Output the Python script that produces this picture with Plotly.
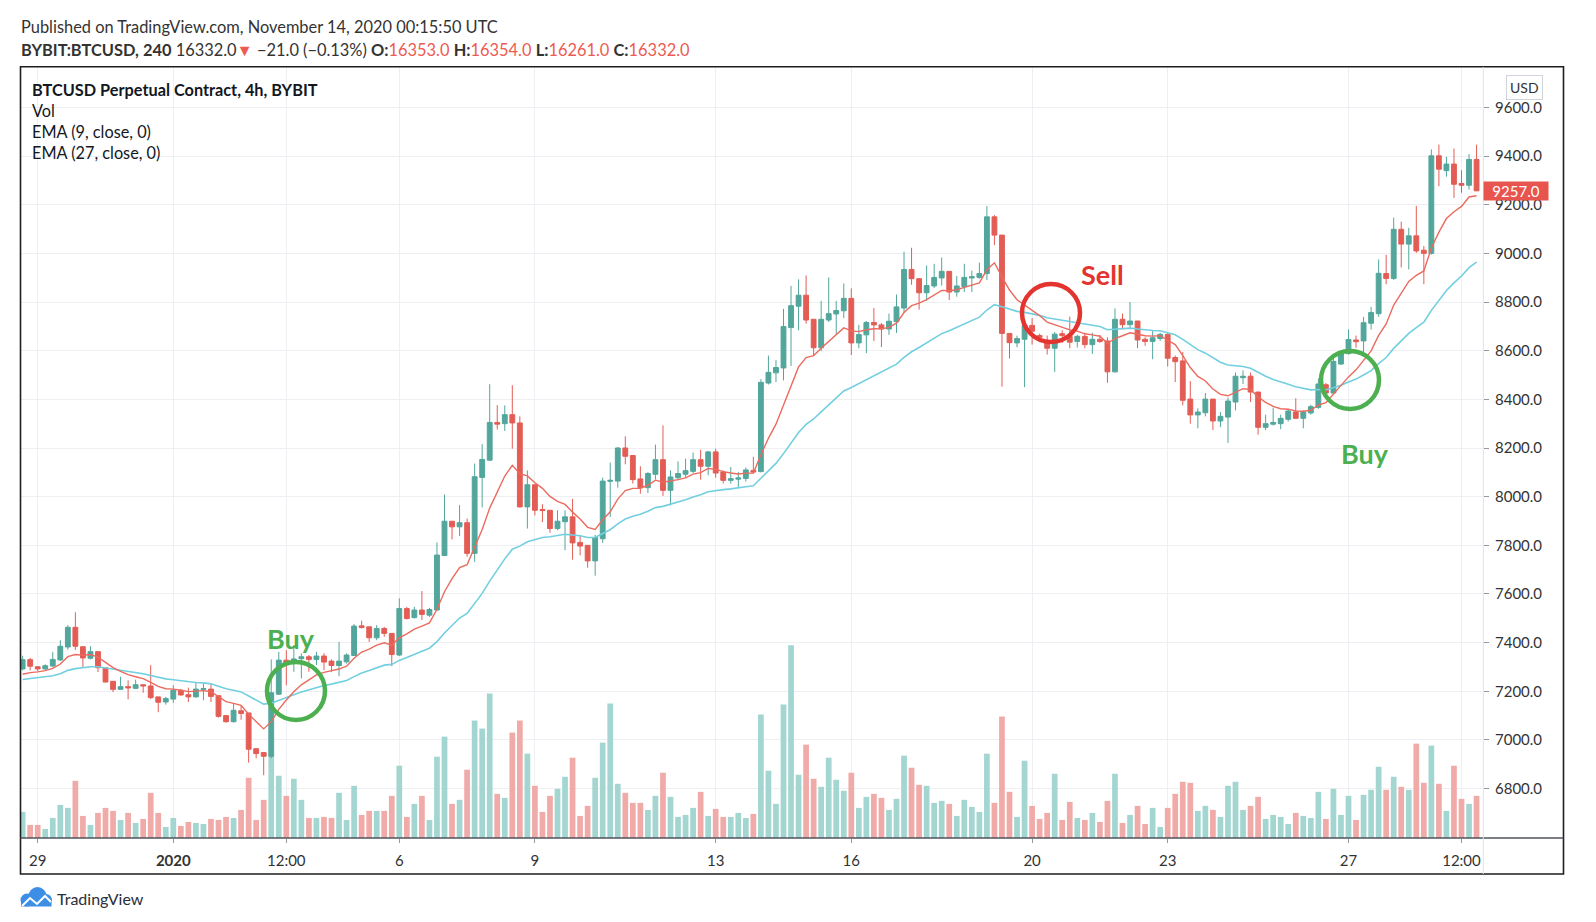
import pandas as pd
import plotly.graph_objects as go

# BYBIT:BTCUSD 4h candles, 28 Dec 2019 16:00 -> 29 Jan 2020 20:00
times = pd.date_range('2019-12-28 16:00', periods=194, freq='4h')

opens = [7292, 7330, 7301, 7292, 7304, 7329, 7382, 7463, 7383, 7336,
         7363, 7297, 7241, 7208, 7219, 7212, 7227, 7222, 7177, 7156,
         7168, 7204, 7186, 7177, 7207, 7209, 7182, 7100, 7075, 7120,
         7111, 6964, 6948, 6933, 7188, 7328, 7321, 7334, 7342, 7331,
         7345, 7324, 7306, 7321, 7347, 7469, 7465, 7420, 7458, 7438,
         7349, 7540, 7503, 7534, 7513, 7534, 7758, 7899, 7876, 7893,
         7767, 8079, 8150, 8305, 8300, 8337, 8303, 7958, 8049, 7947,
         7944, 7869, 7897, 7917, 7812, 7800, 7736, 7827, 8063, 8064,
         8200, 8169, 8073, 8037, 8092, 8152, 8026, 8078, 8092, 8104,
         8152, 8125, 8184, 8101, 8067, 8072, 8075, 8108, 8103, 8467,
         8509, 8529, 8695, 8783, 8828, 8729, 8612, 8726, 8751, 8764,
         8815, 8632, 8665, 8716, 8706, 8689, 8719, 8775, 8934, 8896,
         8838, 8866, 8899, 8926, 8841, 8863, 8899, 8901, 8917, 9150,
         9075, 8671, 8632, 8647, 8704, 8662, 8632, 8610, 8670, 8659,
         8638, 8659, 8625, 8647, 8640, 8513, 8729, 8707, 8722, 8647,
         8638, 8650, 8667, 8572, 8558, 8401, 8336, 8345, 8401, 8311,
         8327, 8389, 8489, 8495, 8430, 8285, 8298, 8300, 8318, 8348,
         8322, 8344, 8367, 8460, 8426, 8545, 8588, 8644, 8640, 8713,
         8752, 8917, 8897, 9099, 9038, 9072, 9013, 9000, 9401, 9340,
         9367, 9287, 9280, 9386]
highs = [7346, 7338, 7301, 7311, 7362, 7410, 7472, 7525, 7385, 7385,
         7363, 7297, 7241, 7260, 7245, 7248, 7227, 7307, 7177, 7177,
         7225, 7209, 7215, 7236, 7231, 7231, 7182, 7100, 7152, 7142,
         7111, 6964, 6948, 7331, 7362, 7369, 7390, 7356, 7349, 7362,
         7356, 7331, 7403, 7356, 7476, 7490, 7465, 7472, 7465, 7438,
         7582, 7547, 7547, 7612, 7543, 7812, 8009, 7899, 7965, 7910,
         8136, 8216, 8462, 8376, 8375, 8458, 8330, 8108, 8049, 7969,
         7944, 7944, 7944, 7991, 7841, 7800, 7843, 8078, 8140, 8204,
         8248, 8169, 8125, 8101, 8214, 8293, 8108, 8145, 8156, 8181,
         8193, 8188, 8197, 8108, 8122, 8101, 8120, 8164, 8483, 8580,
         8561, 8772, 8866, 8893, 8909, 8729, 8805, 8901, 8805, 8876,
         8856, 8706, 8722, 8775, 8714, 8752, 8831, 9007, 9023, 8896,
         8950, 8957, 8983, 8926, 8907, 8957, 8929, 8962, 9194, 9157,
         9075, 8671, 8662, 8729, 8734, 8670, 8662, 8677, 8684, 8740,
         8665, 8674, 8674, 8665, 8655, 8774, 8752, 8800, 8722, 8655,
         8684, 8674, 8674, 8580, 8595, 8475, 8363, 8426, 8401, 8348,
         8407, 8510, 8519, 8510, 8430, 8337, 8366, 8337, 8361, 8404,
         8355, 8378, 8486, 8467, 8584, 8597, 8687, 8662, 8739, 8780,
         8975, 8994, 9147, 9130, 9105, 9195, 9030, 9427, 9447, 9397,
         9431, 9342, 9408, 9447]
lows = [7286, 7286, 7282, 7286, 7300, 7325, 7371, 7370, 7300, 7331,
        7279, 7237, 7197, 7208, 7167, 7209, 7194, 7168, 7114, 7145,
        7152, 7182, 7156, 7174, 7163, 7156, 7092, 7071, 7072, 7083,
        6907, 6925, 6855, 6925, 7185, 7225, 7280, 7253, 7280, 7308,
        7287, 7280, 7262, 7314, 7345, 7458, 7403, 7410, 7424, 7303,
        7345, 7495, 7499, 7493, 7506, 7531, 7756, 7824, 7838, 7753,
        7732, 7956, 8148, 8276, 8270, 8197, 7955, 7869, 7923, 7896,
        7851, 7862, 7780, 7741, 7759, 7708, 7675, 7810, 7917, 8037,
        8133, 8054, 8012, 8015, 8070, 8003, 7964, 8067, 8081, 8097,
        8070, 8088, 8078, 8054, 8054, 8037, 8062, 8095, 8100, 8461,
        8471, 8478, 8537, 8684, 8711, 8577, 8598, 8718, 8668, 8734,
        8582, 8610, 8590, 8640, 8615, 8665, 8673, 8755, 8871, 8769,
        8805, 8858, 8868, 8808, 8822, 8841, 8841, 8896, 8890, 9034,
        8452, 8568, 8614, 8450, 8625, 8635, 8584, 8513, 8632, 8610,
        8613, 8610, 8587, 8632, 8468, 8510, 8687, 8689, 8610, 8620,
        8565, 8640, 8535, 8471, 8375, 8300, 8281, 8330, 8274, 8286,
        8221, 8355, 8463, 8389, 8255, 8273, 8292, 8277, 8309, 8320,
        8281, 8337, 8361, 8426, 8420, 8541, 8584, 8612, 8594, 8687,
        8739, 8873, 8891, 8942, 8934, 9002, 8873, 8995, 9276, 9315,
        9228, 9249, 9262, 9267]
closes = [7330, 7303, 7292, 7305, 7331, 7385, 7463, 7385, 7337, 7363,
          7297, 7238, 7208, 7219, 7214, 7227, 7222, 7174, 7155, 7170,
          7204, 7185, 7177, 7209, 7211, 7179, 7097, 7075, 7122, 7109,
          6962, 6944, 6933, 7194, 7328, 7317, 7333, 7342, 7331, 7345,
          7320, 7306, 7324, 7349, 7468, 7462, 7420, 7458, 7438, 7351,
          7540, 7499, 7534, 7516, 7536, 7760, 7899, 7876, 7893, 7767,
          8082, 8153, 8305, 8298, 8337, 8303, 7958, 8049, 7944, 7943,
          7869, 7899, 7917, 7810, 7797, 7736, 7832, 8064, 8067, 8200,
          8166, 8070, 8037, 8095, 8152, 8026, 8081, 8095, 8107, 8152,
          8125, 8184, 8097, 8067, 8074, 8077, 8110, 8101, 8470, 8511,
          8531, 8699, 8785, 8828, 8726, 8612, 8729, 8752, 8765, 8815,
          8632, 8666, 8716, 8706, 8689, 8721, 8780, 8934, 8896, 8838,
          8868, 8901, 8926, 8841, 8866, 8901, 8904, 8917, 9150, 9075,
          8671, 8633, 8650, 8704, 8680, 8655, 8610, 8668, 8662, 8635,
          8659, 8625, 8647, 8638, 8513, 8729, 8707, 8722, 8644, 8638,
          8653, 8667, 8569, 8555, 8396, 8336, 8348, 8401, 8311, 8330,
          8393, 8495, 8495, 8430, 8285, 8300, 8305, 8322, 8352, 8322,
          8348, 8370, 8463, 8426, 8556, 8588, 8646, 8637, 8715, 8757,
          8918, 8897, 9099, 9038, 9072, 9010, 9000, 9401, 9346, 9367,
          9284, 9280, 9386, 9257]
volumes = [26, 13, 13, 9, 20, 33, 30, 57, 22, 13,
           25, 30, 27, 18, 25, 15, 19, 45, 25, 11,
           20, 12, 16, 15, 14, 19, 18, 21, 20, 28,
           60, 18, 38, 82, 62, 42, 59, 38, 20, 20,
           21, 20, 45, 18, 52, 23, 27, 27, 27, 42,
           72, 21, 34, 42, 18, 81, 101, 34, 38, 68,
           117, 109, 144, 44, 40, 105, 117, 84, 52, 26,
           42, 49, 61, 80, 22, 32, 60, 95, 134, 54,
           45, 35, 35, 28, 42, 65, 41, 21, 23, 30,
           46, 22, 29, 21, 21, 25, 20, 24, 123, 67,
           34, 133, 192, 63, 93, 59, 51, 80, 58, 47,
           65, 30, 41, 44, 40, 28, 39, 82, 70, 53,
           52, 35, 37, 34, 22, 38, 31, 26, 84, 35,
           121, 46, 21, 77, 32, 19, 25, 64, 18, 36,
           20, 18, 25, 16, 37, 64, 15, 23, 32, 14,
           30, 11, 30, 44, 56, 55, 27, 32, 28, 21,
           52, 56, 28, 32, 41, 19, 23, 21, 14, 25,
           22, 20, 46, 19, 49, 23, 42, 18, 43, 48,
           71, 48, 61, 51, 48, 94, 55, 92, 54, 27,
           72, 39, 34, 42]

# EMA values carried in from before the first visible candle
ema9_prev = 7255
ema27_prev = 7242

last_price = 9257.0
price_ticks = list(range(6800, 9601, 200))
date_ticks = ['2019-12-29', '2020-01-01', '2020-01-03 12:00', '2020-01-06', '2020-01-09',
              '2020-01-13', '2020-01-16', '2020-01-20', '2020-01-23', '2020-01-27',
              '2020-01-29 12:00']
date_labels = ['29', '<b>2020</b>', '12:00', '6', '9', '13', '16', '20', '23', '27', '12:00']

UP = '#52a69b'
DOWN = '#e35d55'
VOL_UP = '#a3d6d0'
VOL_DOWN = '#f0aba9'
GREEN = '#4caf50'
RED = '#e3342f'
FONT = 'Lato'

# page pixels -> paper coords; the page body adds an 8px margin around the figure
OFF = 8
FIG_W, FIG_H = 1596 - OFF, 922 - OFF
L, R, T, B = 20 - OFF, 1483 - OFF, 67 - OFF, 838 - OFF
def px_x(x):
    return (x - OFF - L) / (R - L)
def px_y(y):
    return (B - (y - OFF)) / (B - T)

def ema(values, span, prev):
    s = pd.Series([prev] + list(values))
    return s.ewm(span=span, adjust=False).mean().iloc[1:].values

ema9 = ema(closes, 9, ema9_prev)
ema27 = ema(closes, 27, ema27_prev)
vol_colors = [VOL_UP if c >= o else VOL_DOWN for o, c in zip(opens, closes)]

fig = go.Figure()
fig.add_trace(go.Bar(x=times, y=volumes, marker_color=vol_colors, marker_line_width=0,
                     yaxis='y', name='Vol'))
fig.add_trace(go.Candlestick(x=times, open=opens, high=highs, low=lows, close=closes,
                             yaxis='y2', whiskerwidth=0, name='BTCUSD',
                             increasing=dict(line=dict(color=UP, width=1), fillcolor=UP),
                             decreasing=dict(line=dict(color=DOWN, width=1), fillcolor=DOWN)))
fig.add_trace(go.Scatter(x=times, y=ema27, mode='lines', yaxis='y2',
                         line=dict(color='#72cfe0', width=1.6), name='EMA 27'))
fig.add_trace(go.Scatter(x=times, y=ema9, mode='lines', yaxis='y2',
                         line=dict(color='#ec6a5e', width=1.4), name='EMA 9'))

fig.update_layout(
    template='none', width=FIG_W, height=FIG_H, autosize=False,
    margin=dict(l=L, r=FIG_W - R, t=T, b=FIG_H - B),
    paper_bgcolor='white', plot_bgcolor='white', showlegend=False,
    boxgap=0.2, boxgroupgap=0.2, bargap=0.24,
    font=dict(family=FONT, size=15, color='#131722'),
    xaxis=dict(type='date', range=['2019-12-28 14:36', '2020-01-29 23:25'],
               tickvals=date_ticks, ticktext=date_labels, showgrid=True, gridcolor='#eeeff3',
               gridwidth=1, zeroline=False, showline=False, ticks='outside', ticklen=4,
               tickcolor='#9598a1', ticklabelstandoff=5, tickfont=dict(size=15, color='#333'),
               rangeslider=dict(visible=False), automargin=False, fixedrange=True),
    yaxis=dict(range=[0, max(volumes) * 4.0], visible=False, showgrid=False,
               zeroline=False, automargin=False),
    yaxis2=dict(overlaying='y', side='right', range=[6597, 9766],
                tickvals=price_ticks, ticktext=['%.1f' % v for v in price_ticks],
                showgrid=True, gridcolor='#eeeff3', gridwidth=1, zeroline=False,
                showline=False, ticks='outside', ticklen=5, tickcolor='#9598a1',
                ticklabelstandoff=3, tickfont=dict(size=15, color='#333'), automargin=False),
)

shapes = [
    # outer frame, bottom axis line, price-scale separator
    dict(type='rect', xref='paper', yref='paper', x0=px_x(20.5), x1=px_x(1563.5),
         y0=px_y(874), y1=px_y(66.7), line=dict(color='#1e1e1e', width=1.6)),
    dict(type='line', xref='paper', yref='paper', x0=px_x(20.5), x1=px_x(1563.5),
         y0=px_y(838), y1=px_y(838), line=dict(color='#50535e', width=1.4)),
    dict(type='line', xref='paper', yref='paper', x0=px_x(1483.3), x1=px_x(1483.3),
         y0=px_y(874), y1=px_y(67), line=dict(color='#e0e3eb', width=1)),
]
# hand-drawn signal circles
for cx, cy, col in [(296, 691, GREEN), (1051, 313, RED), (1350, 380, GREEN)]:
    shapes.append(dict(type='circle', xref='paper', yref='paper',
                       x0=px_x(cx - 29), x1=px_x(cx + 29), y0=px_y(cy + 29), y1=px_y(cy - 29),
                       line=dict(color=col, width=4.5)))
# TradingView cloud logo
for cx, cy, r in [(27, 900, 6.5), (37.5, 896, 9), (46, 900, 6)]:
    shapes.append(dict(type='circle', xref='paper', yref='paper', fillcolor='#3d8fe6',
                       line=dict(width=0), x0=px_x(cx - r), x1=px_x(cx + r),
                       y0=px_y(cy + r), y1=px_y(cy - r)))
shapes.append(dict(type='rect', xref='paper', yref='paper', fillcolor='#3d8fe6', line=dict(width=0),
                   x0=px_x(21), x1=px_x(51.5), y0=px_y(906.5), y1=px_y(900)))
zig = [(22, 906), (30, 898), (37, 904), (45, 896), (51, 902)]
shapes.append(dict(type='path', xref='paper', yref='paper', line=dict(color='white', width=2),
                   path='M ' + ' L '.join('%f,%f' % (px_x(a), px_y(b)) for a, b in zig)))
fig.update_layout(shapes=shapes)

def note(x, y, text, size=15, color='#131722', xanchor='left', **kw):
    fig.add_annotation(xref='paper', yref='paper', x=px_x(x), y=px_y(y), text=text,
                       showarrow=False, xanchor=xanchor, yanchor='middle',
                       font=dict(family=FONT, size=size, color=color), **kw)

note(19, 27, 'Published on TradingView.com, November 14, 2020 00:15:50 UTC', size=16.4, color='#333')
red_span = '<span style="color:#ec5b52">%s</span>'
note(19, 49, '<b>BYBIT:BTCUSD, 240</b> 16332.0' + red_span % '▼' + ' −21.0 (−0.13%) '
     + '<b>O:</b>' + red_span % '16353.0' + ' <b>H:</b>' + red_span % '16354.0'
     + ' <b>L:</b>' + red_span % '16261.0' + ' <b>C:</b>' + red_span % '16332.0',
     size=16.4, color='#333')

legend_lines = ['<b>BTCUSD Perpetual Contract, 4h, BYBIT</b>', 'Vol',
                'EMA (9, close, 0)', 'EMA (27, close, 0)']
for k, line in enumerate(legend_lines):
    note(30, 89 + 21 * k, line, size=16.3)

note(291, 638, '<b>Buy</b>', size=27, color=GREEN, xanchor='center')
note(1102, 274, '<b>Sell</b>', size=27, color=RED, xanchor='center')
note(1365, 453, '<b>Buy</b>', size=27, color=GREEN, xanchor='center')

note(1524, 87, 'USD', size=14, color='#333', xanchor='center',
     bordercolor='#d1d4dc', borderwidth=1, borderpad=3, bgcolor='white')
fig.add_annotation(xref='paper', yref='y2', x=1.0, y=last_price, text='%.1f' % last_price,
                   showarrow=False, xanchor='left', yanchor='middle', width=64, height=18,
                   bgcolor='#e8544e', borderpad=0,
                   font=dict(family=FONT, size=15, color='white'))
note(55, 898, 'TradingView', size=16, color='#2a2e39')

fig.write_html('out.html')
